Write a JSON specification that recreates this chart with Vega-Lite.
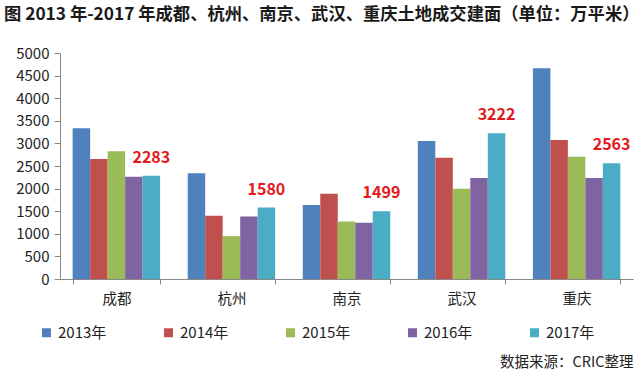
{
  "$schema": "https://vega.github.io/schema/vega-lite/v6.json",
  "background": "white",
  "padding": {"top": 5, "left": 4, "right": 7, "bottom": 2},
  "config": {"view": {"stroke": null}, "font": "Noto Sans CJK SC"},
  "width": 573,
  "height": 226,
  "title": {"text": "图  2013 年-2017 年成都、杭州、南京、武汉、重庆土地成交建面（单位：万平米）", "anchor": "start", "fontSize": 17.3, "fontWeight": "bold", "offset": 23, "color": "#1a1a1a", "font": "Noto Sans CJK SC"},
  "data": {"values": [
    {"city": "成都", "year": "2013年", "value": 3333},
    {"city": "成都", "year": "2014年", "value": 2653},
    {"city": "成都", "year": "2015年", "value": 2824},
    {"city": "成都", "year": "2016年", "value": 2261},
    {"city": "成都", "year": "2017年", "value": 2283},
    {"city": "杭州", "year": "2013年", "value": 2337},
    {"city": "杭州", "year": "2014年", "value": 1398},
    {"city": "杭州", "year": "2015年", "value": 948},
    {"city": "杭州", "year": "2016年", "value": 1384},
    {"city": "杭州", "year": "2017年", "value": 1580},
    {"city": "南京", "year": "2013年", "value": 1635},
    {"city": "南京", "year": "2014年", "value": 1885},
    {"city": "南京", "year": "2015年", "value": 1274},
    {"city": "南京", "year": "2016年", "value": 1243},
    {"city": "南京", "year": "2017年", "value": 1499},
    {"city": "武汉", "year": "2013年", "value": 3052},
    {"city": "武汉", "year": "2014年", "value": 2682},
    {"city": "武汉", "year": "2015年", "value": 1996},
    {"city": "武汉", "year": "2016年", "value": 2233},
    {"city": "武汉", "year": "2017年", "value": 3222},
    {"city": "重庆", "year": "2013年", "value": 4662},
    {"city": "重庆", "year": "2014年", "value": 3074},
    {"city": "重庆", "year": "2015年", "value": 2704},
    {"city": "重庆", "year": "2016年", "value": 2233},
    {"city": "重庆", "year": "2017年", "value": 2563}
  ]},
  "encoding": {
    "x": {"field": "city", "type": "nominal", "sort": ["成都", "杭州", "南京", "武汉", "重庆"],
      "scale": {"paddingInner": 0.24, "paddingOuter": 0.11},
      "axis": {"title": "数据来源：CRIC整理", "titleAnchor": "end", "titlePadding": 50, "titleFontSize": 14.5, "titleFontWeight": "normal", "titleColor": "#222222", "titleFont": "Noto Sans CJK SC",
        "labelAngle": 0, "tickBand": "extent", "domainColor": "#888888", "tickColor": "#888888", "tickSize": 5, "labelPadding": 8, "labelFontSize": 14.5, "labelColor": "#222222"}},
    "xOffset": {"field": "year", "type": "nominal", "scale": {"paddingInner": 0, "paddingOuter": 0}},
    "y": {"field": "value", "type": "quantitative", "scale": {"domain": [0, 5000]},
      "axis": {"title": null, "format": "d", "minExtent": 56, "values": [0, 500, 1000, 1500, 2000, 2500, 3000, 3500, 4000, 4500, 5000], "grid": false, "tickSize": 6, "labelPadding": 5, "labelFontSize": 15, "domainColor": "#888888", "tickColor": "#888888", "labelColor": "#222222"}}
  },
  "layer": [
    {
      "mark": {"type": "bar"},
      "encoding": {
        "color": {"field": "year", "type": "nominal",
          "scale": {"range": ["#4F81BD", "#C0504D", "#9BBB59", "#8064A2", "#4BACC6"]},
          "legend": {"title": null, "orient": "none", "direction": "horizontal", "legendX": -21, "legendY": 272, "symbolType": "square", "symbolSize": 81, "symbolStrokeWidth": 0, "labelFontSize": 15, "labelOffset": 4, "columnPadding": 54, "labelColor": "#222222"}}
      }
    },
    {
      "transform": [{"filter": "datum.year == '2017年'"}],
      "mark": {"type": "text", "baseline": "alphabetic", "dy": -13, "fontSize": 16, "fontWeight": "bold", "color": "#E3191C"},
      "encoding": {"text": {"field": "value", "type": "quantitative", "format": "d"}}
    }
  ]
}
